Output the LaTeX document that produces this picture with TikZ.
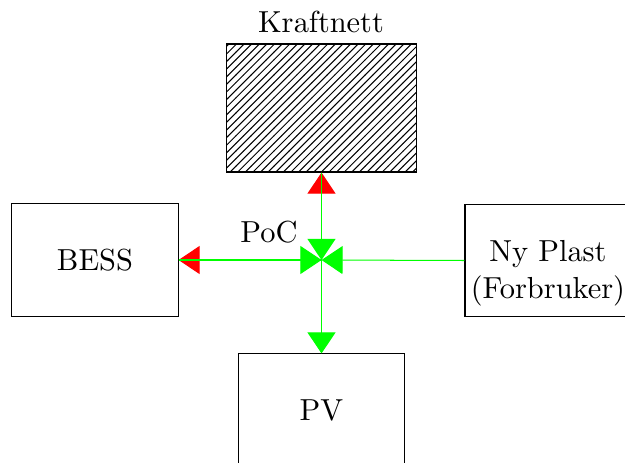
\documentclass[tikz,border=0pt]{standalone}
\usetikzlibrary{patterns,arrows.meta}
\font\diagrm=cmr10 at 12pt
\begin{document}
\begin{tikzpicture}[x=0.3945pt,y=-0.3945pt,
  every node/.style={font=\fontsize{12}{14.5}\selectfont\diagrm},
  box/.style={draw,rectangle,inner sep=0pt,minimum width=65.5pt,minimum height=44.2pt},
  conn/.style={green}]
\useasboundingbox (0,0) rectangle (625,463);
\node[draw,rectangle,inner sep=0pt,minimum width=74.6pt,minimum height=50.5pt,pattern=north east lines] (kn) at (321.5,108) {};
\node (knlabel) at (321,22) {Kraftnett};
\node[box] (bess) at (95,260) {BESS};
\node[box] (ny) at (548,260.5) {};
\node[align=center] (nytxt) at (548,273) {Ny Plast\\(Forbruker)};
\node[box] (pv) at (321.5,410) {PV};
\coordinate (poc) at (321.5,260);
\node (poclabel) at (269,232) {PoC};
\draw[conn,{Triangle[length=8.3pt,width=11pt,red]}-{Triangle[length=8.3pt,width=11pt,green]}] (kn.south) -- (poc);
\draw[conn,{Triangle[length=8.3pt,width=11pt,red]}-{Triangle[length=8.3pt,width=11pt,green]}] (bess.east) -- (poc);
\draw[conn,-{Triangle[length=8.3pt,width=11pt,green]}] (ny.west) -- (poc);
\draw[conn,-{Triangle[length=8.3pt,width=11pt,green]}] (poc) -- (pv.north);
\draw[conn] (kn.south) -- (poc);
\draw[conn] (bess.east) -- (poc);
\end{tikzpicture}
\end{document}
